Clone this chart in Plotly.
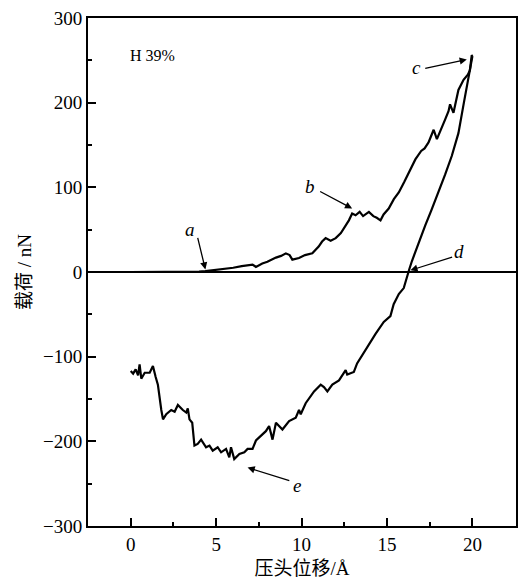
import plotly.graph_objects as go

# Loading curve (displacement Å, load nN)
load_x = [0, 0.5, 1, 1.5, 2, 2.5, 3, 3.5, 4, 4.37, 4.8, 5.2, 5.6, 6, 6.5, 7.13, 7.33, 7.7, 8, 8.5, 8.8, 9.08,
          9.3, 9.46, 9.85, 10.2, 10.63, 11, 11.2, 11.41, 11.7, 12.0, 12.3, 12.5, 12.77, 12.96, 13.16, 13.4,
          13.6, 13.94, 14.2, 14.4, 14.62, 14.8, 15.1, 15.4, 15.69, 16.0, 16.3, 16.66, 17.0, 17.2, 17.43,
          17.73, 17.92, 18.1, 18.4, 18.6, 18.69, 18.89, 19.0, 19.18, 19.48, 19.73, 19.85, 19.96, 20.0]
load_y = [0, 0, 0.5, 0, 0.5, 0, 0.5, 0, 0.5, 1, 2, 3.6, 4, 5, 7, 8.8, 6, 10, 12, 17, 19, 22,
          20, 14.6, 16.5, 20, 22, 30, 36, 40, 37, 40, 46, 52, 61, 69, 67, 71,
          66, 71, 66, 64, 61, 68, 75, 86, 94, 106, 118, 133, 143, 146, 153,
          168, 157, 165, 180, 190, 198, 188, 200, 215, 227, 233, 238, 256, 255]

# Unloading curve
unload_x = [20.0, 19.77, 19.5, 19.18, 18.79, 18.4, 18.02, 17.6, 17.24, 16.85, 16.46, 16.3, 16.17, 15.98,
            15.69, 15.39, 15.2, 14.81, 14.33, 13.74, 13.25, 13.06, 12.67, 12.58, 12.19, 11.8, 11.51,
            11.31, 11.12, 10.73, 10.53, 10.24, 9.95, 9.85, 9.66, 9.27, 8.88, 8.5, 8.3, 8.1, 7.91, 7.62,
            7.33, 7.13, 6.84, 6.65, 6.36, 6.06, 5.87, 5.77, 5.58, 5.29, 5.09, 4.8, 4.61, 4.41, 4.12,
            3.92, 3.73, 3.6, 3.44, 3.34, 3.25, 3.05, 2.76, 2.57, 2.37, 2.08, 1.89, 1.79, 1.59, 1.46,
            1.30, 1.11, 0.82, 0.62, 0.52, 0.43, 0.29, 0.14, 0.0]
unload_y = [255, 231, 200, 164, 137, 115, 94, 73, 55, 35, 13, 3, -5, -19,
            -26, -38, -52, -59, -73, -93, -108, -118, -121, -116, -128, -133, -141,
            -136, -133, -141, -147, -155, -168, -163, -172, -176, -186, -178, -198, -182, -188, -194,
            -199, -209, -209, -213, -215, -221, -207, -219, -209, -213, -207, -211, -205, -207, -198,
            -203, -205, -178, -174, -161, -166, -163, -157, -165, -163, -168, -174, -163, -133, -124,
            -111, -119, -119, -126, -109, -122, -115, -120, -117]

x_ticks = [0, 5, 10, 15, 20]
y_ticks = [-300, -200, -100, 0, 100, 200, 300]

serif = "'Liberation Serif', 'Times New Roman', 'Noto Sans CJK SC', serif"

fig = go.Figure()
fig.add_trace(go.Scatter(x=load_x, y=load_y, mode="lines",
                         line=dict(color="black", width=2.2), showlegend=False))
fig.add_trace(go.Scatter(x=unload_x, y=unload_y, mode="lines",
                         line=dict(color="black", width=2.2), showlegend=False))

# arrows: (tip_x, tip_y, tail_x, tail_y)
arrows = [(4.37, 3, 3.9, 42), (12.96, 75, 11.0, 96), (19.67, 251, 17.15, 240),
          (16.37, 2, 18.9, 18), (6.84, -231, 9.37, -247)]
for tx, ty, sx, sy in arrows:
    fig.add_annotation(x=tx, y=ty, ax=sx, ay=sy, xref="x", yref="y", axref="x", ayref="y",
                       text="", showarrow=True, arrowhead=2, arrowsize=1.1, arrowwidth=1.3,
                       arrowcolor="black")

labels = [("a", 3.48, 50), ("b", 10.5, 101), ("c", 16.75, 241), ("d", 19.2, 24), ("e", 9.75, -252)]
for t, lx, ly in labels:
    fig.add_annotation(x=lx, y=ly, xref="x", yref="y", text="<i>" + t + "</i>", showarrow=False,
                       font=dict(family=serif, size=19, color="black"),
                       xanchor="center", yanchor="middle")

fig.add_annotation(x=1.28, y=256, xref="x", yref="y", text="H 39%", showarrow=False,
                   font=dict(family=serif, size=16, color="black"), xanchor="center", yanchor="middle")

fig.update_xaxes(range=[-2.5, 22.55], tickmode="array", tickvals=x_ticks,
                 ticks="inside", ticklen=8, tickwidth=1.5, tickcolor="black",
                 minor=dict(tickmode="array", tickvals=[2.5, 7.5, 12.5, 17.5], ticks="inside",
                            ticklen=4, tickwidth=1.5, tickcolor="black"),
                 showline=True, linecolor="black", linewidth=1.8, mirror=True,
                 showgrid=False, zeroline=False,
                 tickfont=dict(family=serif, size=19, color="black"),
                 title=dict(text="压头位移/Å", font=dict(family=serif, size=19, color="black"), standoff=8))
fig.update_yaxes(range=[-300, 300], tickmode="array", tickvals=y_ticks,
                 ticks="inside", ticklen=8, tickwidth=1.5, tickcolor="black",
                 minor=dict(tickmode="array", tickvals=[-250, -150, -50, 50, 150, 250], ticks="inside",
                            ticklen=4, tickwidth=1.5, tickcolor="black"),
                 showline=True, linecolor="black", linewidth=1.8, mirror=True,
                 showgrid=False, zeroline=True, zerolinecolor="black", zerolinewidth=1.6,
                 tickfont=dict(family=serif, size=19, color="black"),
                 title=dict(text="载荷 / nN", font=dict(family=serif, size=19, color="black"), standoff=6))

fig.update_layout(width=526, height=584, margin=dict(l=88, r=8, t=14, b=56),
                  plot_bgcolor="white", paper_bgcolor="white",
                  font=dict(family=serif, color="black"))

fig.write_html("out.html")
